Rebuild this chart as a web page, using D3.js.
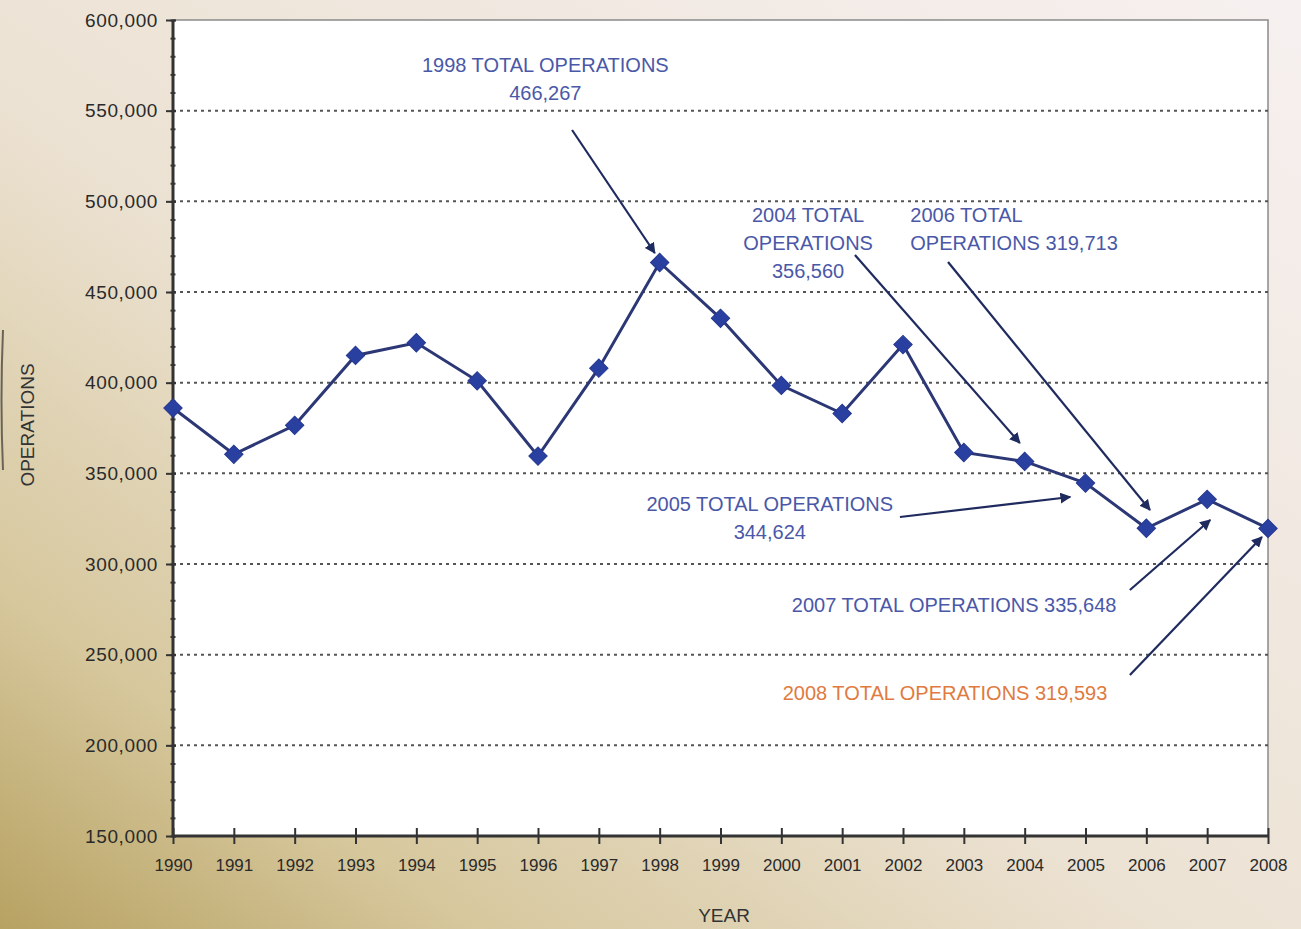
<!DOCTYPE html>
<html>
<head>
<meta charset="utf-8">
<script src="https://d3js.org/d3.v7.min.js"></script>
<style>
  body { margin: 0; }
  svg { display: block; }
</style>
</head>
<body>
<svg></svg>
<script>
let years = [1990, 1991, 1992, 1993, 1994, 1995, 1996, 1997, 1998, 1999,
             2000, 2001, 2002, 2003, 2004, 2005, 2006, 2007, 2008]
let operations = [386000, 360500, 376500, 415000, 422000, 401000, 359500, 408000, 466267, 435500,
                  398500, 383000, 421000, 361500, 356560, 344624, 319713, 335648, 319593]
let yTicks = [150000, 200000, 250000, 300000, 350000, 400000, 450000, 500000, 550000, 600000]

// callouts: text lines, text anchor [year, value], arrow from / to [year, value]
let noteLines = [
    ['1998 TOTAL OPERATIONS', '466,267'],
    ['2004 TOTAL', 'OPERATIONS', '356,560'],
    ['2006 TOTAL', 'OPERATIONS 319,713'],
    ['2005 TOTAL OPERATIONS', '344,624'],
    ['2007 TOTAL OPERATIONS 335,648'],
    ['2008 TOTAL OPERATIONS 319,593']
]
let noteAt = [[1996.12, 571300], [2000.44, 488600], [2002.12, 488600], [1999.81, 329230], [2002.84, 273530], [2002.69, 225000]]
let noteAnchor = ['middle', 'middle', 'start', 'middle', 'middle', 'middle']
let arrowFrom = [[1996.56, 539340], [2001.21, 470400], [2002.74, 466540], [2001.95, 325920], [2005.73, 285670], [2005.73, 238800]]
let arrowTo = [[1997.92, 471510], [2003.92, 366730], [2006.06, 329780], [2004.75, 336950], [2007.05, 324265], [2007.9, 314890]]

let width = 1301
let height = 929
let plotLeft = 173
let plotRight = 1268
let plotTop = 20
let plotBottom = 836

let svg = d3.select('svg')
    .attr('width', width)
    .attr('height', height)

let xScale = d3.scaleLinear().domain([1990, 2008]).range([plotLeft, plotRight])
let yScale = d3.scaleLinear().domain([150000, 600000]).range([plotBottom, plotTop])

let drawBackground = () => {
    let defs = svg.append('defs')
    let grad = defs.append('linearGradient')
        .attr('id', 'bg')
        .attr('x1', '0%').attr('y1', '100%')
        .attr('x2', '100%').attr('y2', '0%')
    grad.append('stop').attr('offset', '0%').attr('stop-color', '#b7a262')
    grad.append('stop').attr('offset', '18%').attr('stop-color', '#d6c79c')
    grad.append('stop').attr('offset', '45%').attr('stop-color', '#ece2d3')
    grad.append('stop').attr('offset', '100%').attr('stop-color', '#f6f0f0')

    defs.append('marker')
        .attr('id', 'arrow')
        .attr('viewBox', '0 0 10 10')
        .attr('refX', 9).attr('refY', 5)
        .attr('markerWidth', 5).attr('markerHeight', 5)
        .attr('orient', 'auto')
        .append('path')
        .attr('d', 'M0,0L10,5L0,10z')
        .attr('fill', '#1f2a5e')

    svg.append('rect')
        .attr('width', width).attr('height', height)
        .attr('fill', 'url(#bg)')

    // decorative edge on the far left
    svg.append('path')
        .attr('d', 'M3,330 Q0,400 3,470')
        .attr('stroke', '#6a6458').attr('stroke-width', 2).attr('fill', 'none')

    svg.append('rect')
        .attr('x', plotLeft).attr('y', plotTop)
        .attr('width', plotRight - plotLeft).attr('height', plotBottom - plotTop)
        .attr('fill', '#ffffff')
        .attr('stroke', '#8a8a8a')
        .attr('stroke-width', 1.5)
}

let drawGrid = () => {
    svg.append('g')
        .selectAll('line')
        .data(yTicks.slice(1, -1))
        .enter()
        .append('line')
        .attr('x1', plotLeft).attr('x2', plotRight)
        .attr('y1', (d) => yScale(d)).attr('y2', (d) => yScale(d))
        .attr('stroke', '#555')
        .attr('stroke-width', 2)
        .attr('stroke-dasharray', '3,4')
}

let drawAxes = () => {
    let yMinor = d3.axisLeft(yScale)
        .tickValues(d3.range(150000, 600001, 10000))
        .tickSize(5)
        .tickFormat('')
    svg.append('g')
        .attr('transform', 'translate(' + (plotLeft + 2.5) + ',0)')
        .call(yMinor)
        .call((g) => g.select('.domain').remove())
        .selectAll('line').attr('stroke', '#3a3a3a').attr('stroke-width', 2)

    let yAxis = d3.axisLeft(yScale)
        .tickValues(yTicks)
        .tickSize(10)
        .tickPadding(6)
        .tickFormat(d3.format(','))
    svg.append('g')
        .attr('id', 'y-axis')
        .attr('transform', 'translate(' + (plotLeft + 3) + ',0)')
        .call(yAxis)
        .call((g) => g.select('.domain').remove())
        .call((g) => g.selectAll('line').attr('stroke', '#333').attr('stroke-width', 2))
        .selectAll('text')
        .attr('x', -18)
        .style('font', '19px "Liberation Sans", Arial, sans-serif')
        .style('letter-spacing', '0.6px')
        .attr('fill', '#2a2a2a')

    let xAxis = d3.axisBottom(xScale)
        .tickValues(years)
        .tickSize(8)
        .tickPadding(15)
        .tickFormat(d3.format('d'))
    svg.append('g')
        .attr('id', 'x-axis')
        .attr('transform', 'translate(0,' + plotBottom + ')')
        .call(xAxis)
        .call((g) => g.select('.domain').remove())
        .call((g) => g.selectAll('line').attr('y1', -8).attr('stroke', '#333').attr('stroke-width', 2))
        .selectAll('text')
        .style('font', '17px "Liberation Sans", Arial, sans-serif')
        .attr('fill', '#2a2a2a')

    svg.append('line')
        .attr('x1', plotLeft).attr('x2', plotLeft)
        .attr('y1', plotTop).attr('y2', plotBottom)
        .attr('stroke', '#333').attr('stroke-width', 3)
    svg.append('line')
        .attr('x1', plotLeft).attr('x2', plotRight)
        .attr('y1', plotBottom).attr('y2', plotBottom)
        .attr('stroke', '#333').attr('stroke-width', 3)

    svg.append('text')
        .attr('transform', 'translate(34,425) rotate(-90)')
        .attr('text-anchor', 'middle')
        .style('font', '19px "Liberation Sans", Arial, sans-serif')
        .attr('fill', '#333')
        .text('OPERATIONS')

    svg.append('text')
        .attr('x', 724)
        .attr('y', 922)
        .attr('text-anchor', 'middle')
        .style('font', '19px "Liberation Sans", Arial, sans-serif')
        .attr('fill', '#333')
        .text('YEAR')
}

let drawLine = () => {
    let line = d3.line()
        .x((d, i) => xScale(years[i]))
        .y((d) => yScale(d))

    svg.append('path')
        .datum(operations)
        .attr('d', line)
        .attr('fill', 'none')
        .attr('stroke', '#2c3775')
        .attr('stroke-width', 3)

    svg.selectAll('rect.point')
        .data(operations)
        .enter()
        .append('rect')
        .attr('class', 'point')
        .attr('x', -6.5).attr('y', -6.5)
        .attr('width', 13).attr('height', 13)
        .attr('transform', (d, i) => 'translate(' + xScale(years[i]) + ',' + yScale(d) + ') rotate(45)')
        .attr('fill', '#2a40a0')
        .attr('stroke', '#253891')
        .attr('stroke-width', 1)
}

let drawNotes = () => {
    svg.selectAll('line.arrow')
        .data(arrowFrom)
        .enter()
        .append('line')
        .attr('class', 'arrow')
        .attr('x1', (d) => xScale(d[0]))
        .attr('y1', (d) => yScale(d[1]))
        .attr('x2', (d, i) => xScale(arrowTo[i][0]))
        .attr('y2', (d, i) => yScale(arrowTo[i][1]))
        .attr('stroke', '#1f2a5e')
        .attr('stroke-width', 2.2)
        .attr('marker-end', 'url(#arrow)')

    noteLines.forEach((lines, i) => {
        let t = svg.append('text')
            .attr('x', xScale(noteAt[i][0]))
            .attr('y', yScale(noteAt[i][1]))
            .attr('text-anchor', noteAnchor[i])
            .style('font', '20px "Liberation Sans", Arial, sans-serif')
            .attr('fill', i == 5 ? '#e07a3e' : '#4a58a8')
        lines.forEach((s, j) => {
            t.append('tspan')
                .attr('x', xScale(noteAt[i][0]))
                .attr('dy', j == 0 ? 0 : 28)
                .text(s)
        })
    })
}

drawBackground()
drawGrid()
drawAxes()
drawLine()
drawNotes()
</script>
</body>
</html>
